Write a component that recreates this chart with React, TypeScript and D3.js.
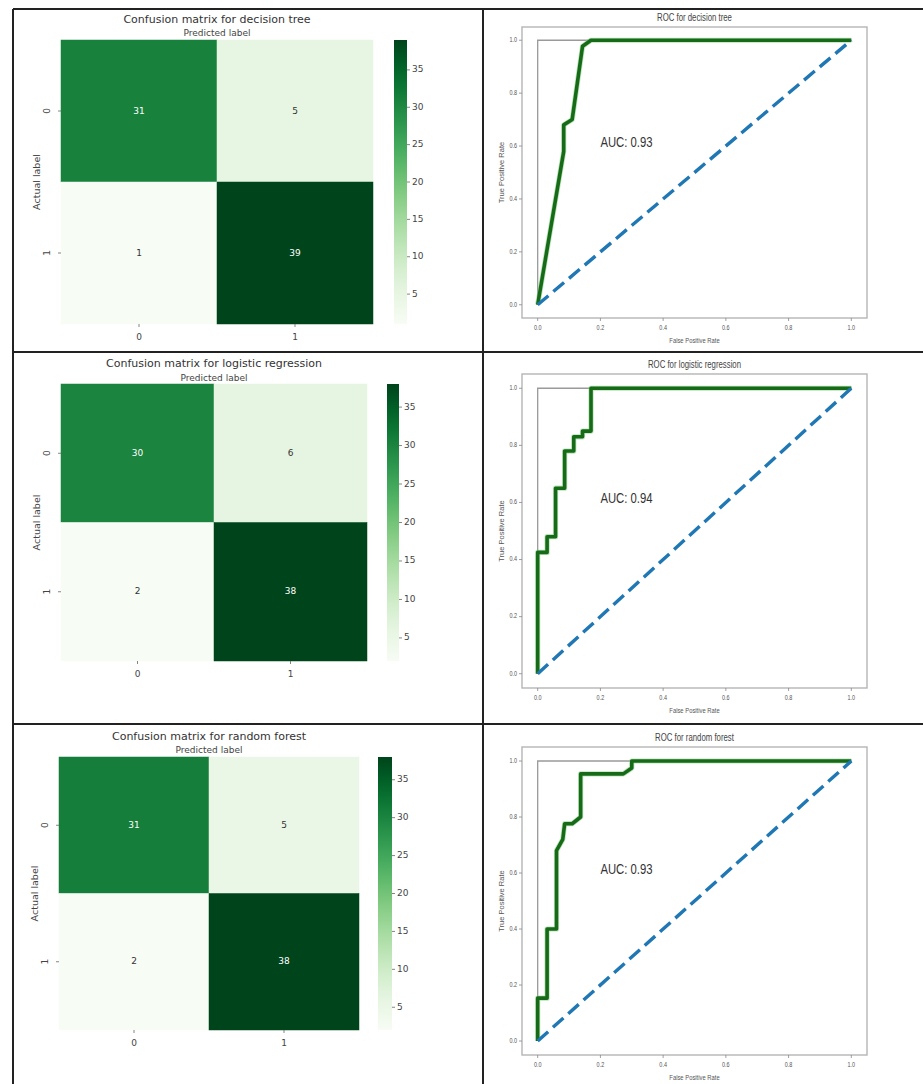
import React from 'react';
import * as d3 from 'd3';

// ---------- data ----------
const classLabels = ['0', '1'];
const cmTitles = [
  'Confusion matrix for decision tree',
  'Confusion matrix for logistic regression',
  'Confusion matrix for random forest',
];
const cmDecisionTree = [[31, 5], [1, 39]];
const cmLogistic = [[30, 6], [2, 38]];
const cmForest = [[31, 5], [2, 38]];
const colorbarTicks = [5, 10, 15, 20, 25, 30, 35];

const rocTitles = ['ROC for decision tree', 'ROC for logistic regression', 'ROC for random forest'];
const dtFpr = [0, 0.083, 0.083, 0.11, 0.143, 0.17, 1];
const dtTpr = [0, 0.58, 0.68, 0.7, 0.977, 1, 1];
const lrFpr = [0, 0, 0.03, 0.03, 0.057, 0.057, 0.086, 0.086, 0.115, 0.115, 0.143, 0.143, 0.17, 0.17, 1];
const lrTpr = [0, 0.425, 0.425, 0.48, 0.48, 0.65, 0.65, 0.78, 0.78, 0.83, 0.83, 0.85, 0.85, 1, 1];
const rfFpr = [0, 0, 0.03, 0.03, 0.06, 0.06, 0.08, 0.086, 0.11, 0.137, 0.137, 0.273, 0.3, 0.3, 1];
const rfTpr = [0, 0.153, 0.153, 0.4, 0.4, 0.68, 0.72, 0.776, 0.776, 0.8, 0.954, 0.954, 0.975, 1, 1];
const aucLabels = ['AUC: 0.93', 'AUC: 0.94', 'AUC: 0.93'];
const rocTicks = [0, 0.2, 0.4, 0.6, 0.8, 1.0];
const perfectFpr = [0, 0, 1];
const perfectTpr = [0, 1, 1];
const chanceFpr = [0, 1];
const chanceTpr = [0, 1];

// ---------- layout ----------
const W = 923;
const H = 1084;
const grid = { left: 13, top: 9, vDiv: 483, hDivs: [352, 724] };

const cmLayout = [
  { heat: [61, 373, 40, 324], cbar: [394, 407], titleY: 20, predY: 33 },
  { heat: [61, 367, 384, 661], cbar: [387, 399], titleY: 364, predY: 378 },
  { heat: [59, 359, 757, 1030], cbar: [378, 392], titleY: 737, predY: 750 },
];
const rocLayout = [
  { frame: [522, 867, 27, 318] },
  { frame: [522, 867, 374, 688] },
  { frame: [522, 867, 747, 1055] },
];

const cmFont = "'DejaVu Sans', sans-serif";
const rocFont = "'Liberation Sans', Arial, sans-serif";
const squeeze = 0.78;

function luminance(c: string) {
  const rgb = d3.rgb(c);
  const f = (v: number) => {
    v /= 255;
    return v <= 0.03928 ? v / 12.92 : Math.pow((v + 0.055) / 1.055, 2.4);
  };
  return 0.2126 * f(rgb.r) + 0.7152 * f(rgb.g) + 0.0722 * f(rgb.b);
}

function NarrowText({
  x,
  y,
  size,
  anchor = 'start',
  rotate = 0,
  fill = '#444',
  children,
}: {
  x: number;
  y: number;
  size: number;
  anchor?: string;
  rotate?: number;
  fill?: string;
  children: React.ReactNode;
}) {
  const tf = rotate
    ? `translate(${x},${y}) rotate(${rotate}) scale(${squeeze},1)`
    : `translate(${x},${y}) scale(${squeeze},1)`;
  return (
    <text transform={tf} textAnchor={anchor} dominantBaseline="middle" fontSize={size} fill={fill}>
      {children}
    </text>
  );
}

function ConfusionPanel({ idx, data }: { idx: number; data: number[][] }) {
  const L = cmLayout[idx];
  const [hx0, hx1, hy0, hy1] = L.heat;
  const flat = data.flat();
  const vmin = d3.min(flat) as number;
  const vmax = d3.max(flat) as number;
  const color = d3.scaleSequential(d3.interpolateGreens).domain([vmin, vmax]);
  const xb = d3.scaleBand().domain(classLabels).range([hx0, hx1]);
  const yb = d3.scaleBand().domain(classLabels).range([hy0, hy1]);
  const cbScale = d3.scaleLinear().domain([vmin, vmax]).range([hy1, hy0]);
  const gradId = `cmgrad${idx}`;
  const stops = d3.range(0, 1.0001, 0.05);
  const [cx0, cx1] = L.cbar;
  const midX = (hx0 + hx1) / 2;
  const midY = (hy0 + hy1) / 2;
  return (
    <g fontFamily={cmFont}>
      <defs>
        <linearGradient id={gradId} x1="0" y1="1" x2="0" y2="0">
          {stops.map((t) => (
            <stop key={t} offset={t} stopColor={color(vmin + t * (vmax - vmin))} />
          ))}
        </linearGradient>
      </defs>
      <text x={midX} y={L.titleY} textAnchor="middle" dominantBaseline="middle" fontSize={11} fill="#333">
        {cmTitles[idx]}
      </text>
      <text x={midX} y={L.predY} textAnchor="middle" dominantBaseline="middle" fontSize={9} fill="#444">
        Predicted label
      </text>
      {data.map((row, r) =>
        row.map((v, c) => {
          const fill = color(v);
          const txt = luminance(fill) > 0.408 ? '#333' : '#ffffff';
          return (
            <g key={`${r}-${c}`}>
              <rect
                x={xb(classLabels[c])}
                y={yb(classLabels[r])}
                width={xb.bandwidth()}
                height={yb.bandwidth()}
                fill={fill}
                stroke={fill}
                strokeWidth={0.5}
              />
              <text
                x={(xb(classLabels[c]) as number) + xb.bandwidth() / 2}
                y={(yb(classLabels[r]) as number) + yb.bandwidth() / 2}
                textAnchor="middle"
                dominantBaseline="middle"
                fontSize={9}
                fill={txt}
              >
                {v}
              </text>
            </g>
          );
        })
      )}
      {classLabels.map((lab) => {
        const px = (xb(lab) as number) + xb.bandwidth() / 2;
        const py = (yb(lab) as number) + yb.bandwidth() / 2;
        return (
          <g key={lab} fill="#444">
            <line x1={px} x2={px} y1={hy1} y2={hy1 + 3} stroke="#666" strokeWidth={0.8} />
            <text x={px} y={hy1 + 13} textAnchor="middle" dominantBaseline="middle" fontSize={9}>
              {lab}
            </text>
            <line x1={hx0 - 3} x2={hx0} y1={py} y2={py} stroke="#666" strokeWidth={0.8} />
            <text
              transform={`translate(${hx0 - 14},${py}) rotate(-90)`}
              textAnchor="middle"
              dominantBaseline="middle"
              fontSize={9}
            >
              {lab}
            </text>
          </g>
        );
      })}
      <text
        transform={`translate(${hx0 - 24},${midY}) rotate(-90)`}
        textAnchor="middle"
        dominantBaseline="middle"
        fontSize={9.5}
        fill="#444"
      >
        Actual label
      </text>
      <rect x={cx0} y={hy0} width={cx1 - cx0} height={hy1 - hy0} fill={`url(#${gradId})`} />
      {colorbarTicks.map((t) => (
        <g key={t}>
          <line x1={cx1} x2={cx1 + 3} y1={cbScale(t)} y2={cbScale(t)} stroke="#666" strokeWidth={0.8} />
          <text x={cx1 + 5} y={cbScale(t)} dominantBaseline="middle" fontSize={9} fill="#444">
            {t}
          </text>
        </g>
      ))}
    </g>
  );
}

function RocPanel({ idx, fpr, tpr }: { idx: number; fpr: number[]; tpr: number[] }) {
  const [fx0, fx1, fy0, fy1] = rocLayout[idx].frame;
  const x = d3.scaleLinear().domain([-0.05, 1.05]).range([fx0, fx1]);
  const y = d3.scaleLinear().domain([-0.05, 1.05]).range([fy1, fy0]);
  const mk = (xs: number[], ys: number[]) =>
    d3
      .line<number>()
      .x((v) => x(v))
      .y((_, i) => y(ys[i]))(xs) as string;
  return (
    <g fontFamily={rocFont}>
      <NarrowText x={(fx0 + fx1) / 2} y={fy0 - 9} size={10} anchor="middle" fill="#444">
        {rocTitles[idx]}
      </NarrowText>
      <rect x={fx0} y={fy0} width={fx1 - fx0} height={fy1 - fy0} fill="#fff" stroke="#b5b5b5" strokeWidth={1.4} />
      <path d={mk(perfectFpr, perfectTpr)} fill="none" stroke="#9a9a9a" strokeWidth={1.3} />
      <path
        d={mk(fpr, tpr)}
        fill="none"
        stroke="#7fd07f"
        strokeWidth={5.2}
        strokeOpacity={0.55}
        strokeLinejoin="round"
      />
      <path d={mk(fpr, tpr)} fill="none" stroke="#176a17" strokeWidth={3.6} strokeLinejoin="round" />
      <path
        d={mk(chanceFpr, chanceTpr)}
        fill="none"
        stroke="#1f77b4"
        strokeWidth={3.4}
        strokeDasharray="14 6.5"
      />
      <NarrowText x={x(0.2)} y={y(0.6) - 3} size={14.5} fill="#333">
        {aucLabels[idx]}
      </NarrowText>
      {rocTicks.map((t) => (
        <g key={t}>
          <line x1={x(t)} x2={x(t)} y1={fy1} y2={fy1 + 3} stroke="#888" strokeWidth={0.8} />
          <NarrowText x={x(t)} y={fy1 + 10} size={7} anchor="middle" fill="#555">
            {t.toFixed(1)}
          </NarrowText>
          <line x1={fx0 - 3} x2={fx0} y1={y(t)} y2={y(t)} stroke="#888" strokeWidth={0.8} />
          <NarrowText x={fx0 - 5} y={y(t)} size={7} anchor="end" fill="#555">
            {t.toFixed(1)}
          </NarrowText>
        </g>
      ))}
      <NarrowText x={(fx0 + fx1) / 2} y={fy1 + 23} size={7.5} anchor="middle" fill="#555">
        False Positive Rate
      </NarrowText>
      <text
        transform={`translate(${fx0 - 20},${(fy0 + fy1) / 2}) rotate(-90)`}
        textAnchor="middle"
        dominantBaseline="middle"
        fontSize={7.5}
        fill="#555"
      >
        True Positive Rate
      </text>
    </g>
  );
}

export default function App() {
  const cms = [cmDecisionTree, cmLogistic, cmForest];
  const rocs = [
    [dtFpr, dtTpr],
    [lrFpr, lrTpr],
    [rfFpr, rfTpr],
  ];
  return (
    <svg
      width={W}
      height={H}
      viewBox={`0 0 ${W} ${H}`}
      style={{ position: 'absolute', left: 0, top: 0, background: '#fff' }}
    >
      <rect x={0} y={0} width={W} height={H} fill="#fff" />
      {cms.map((d, i) => (
        <ConfusionPanel key={i} idx={i} data={d} />
      ))}
      {rocs.map((r, i) => (
        <RocPanel key={i} idx={i} fpr={r[0]} tpr={r[1]} />
      ))}
      <g stroke="#222" strokeWidth={2} fill="none">
        <line x1={grid.left} x2={W + 5} y1={grid.top} y2={grid.top} />
        <line x1={grid.left} x2={grid.left} y1={grid.top} y2={H + 5} />
        <line x1={grid.vDiv} x2={grid.vDiv} y1={grid.top} y2={H + 5} />
        {grid.hDivs.map((hy) => (
          <line key={hy} x1={grid.left} x2={W + 5} y1={hy} y2={hy} />
        ))}
      </g>
    </svg>
  );
}
